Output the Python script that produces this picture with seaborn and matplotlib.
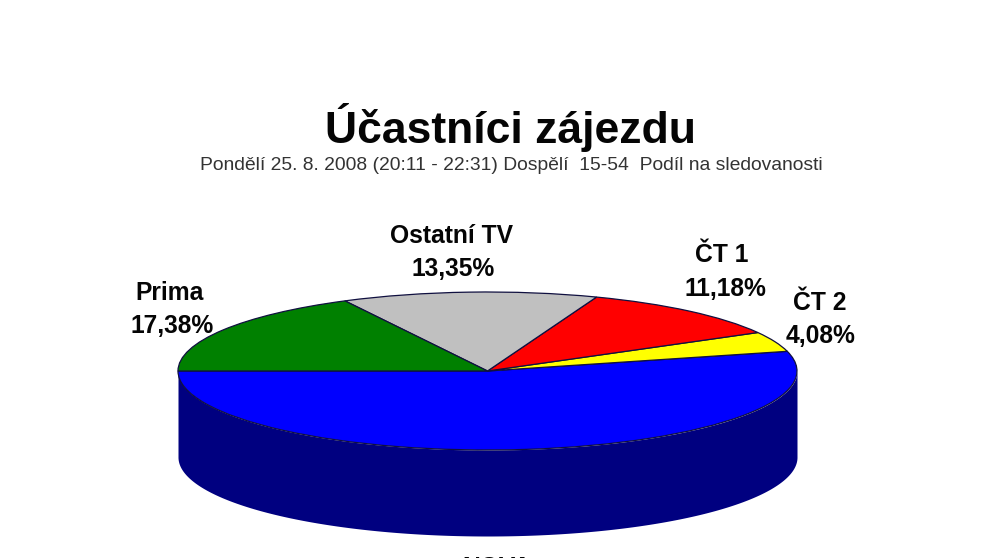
import numpy as np
import matplotlib
matplotlib.use("Agg")
import matplotlib.pyplot as plt
import seaborn as sns

sns.set_theme(style="white")
plt.rcParams["font.family"] = ["Liberation Sans", "DejaVu Sans"]

# data, in pie order (starts on the left, goes round through the bottom)
stanice = ["NOVA", "ČT 2", "ČT 1", "Ostatní TV", "Prima"]
podil = [54.01, 4.08, 11.18, 13.35, 17.38]
barvy = ["#0000ff", "#ffff00", "#ff0000", "#c0c0c0", "#008000"]
bok_barva = "#000080"

titulek = "Účastníci zájezdu"
podtitulek = "Pondělí 25. 8. 2008 (20:11 - 22:31) Dospělí  15-54  Podíl na sledovanosti"

W, H = 991, 558
# pie geometry in pixels
cx, cy, rx, ry, hloubka = 487.5, 371, 309.5, 79, 86

fig = plt.figure(figsize=(W / 100, H / 100), dpi=100, facecolor="white")
ax = fig.add_axes([0, 0, 1, 1])

# the side of the cylinder, front half only
t = np.linspace(np.pi, 2 * np.pi, 400)
x = np.cos(t)
y = np.sin(t)
h = hloubka / ry
ax.fill_between(x, y, y - h, color=bok_barva, lw=0, zorder=0)

# top face, squashed to an ellipse by the axes limits below
wedges, _ = ax.pie(
    podil,
    colors=barvy,
    startangle=180,
    counterclock=True,
    radius=1,
    wedgeprops={"edgecolor": "#101040", "linewidth": 0.9},
)

ax.set_aspect("auto")
ax.set_xlim(-cx / rx, (W - cx) / rx)
ax.set_ylim(-(H - cy) / ry, cy / ry)
ax.axis("off")


def txt(px, py, s, size, weight="bold", barva="#050505"):
    fig.text(px / W, 1 - py / H, s, ha="center", va="center",
             fontsize=size, fontweight=weight, color=barva)


txt(511, 127, titulek, 32)
txt(511, 165, podtitulek, 13.9, "normal", "#333333")

# labels: name above share, pixel anchors per station
kotvy = {
    "ČT 2": (820, 821, 303, 336),
    "ČT 1": (722, 725, 255, 289),
    "Ostatní TV": (451, 453, 236, 269),
    "Prima": (170, 172, 293, 326),
}
for jmeno, hodnota in zip(stanice, podil):
    if jmeno not in kotvy:
        continue
    x1, x2, y1, y2 = kotvy[jmeno]
    txt(x1, y1, jmeno, 17.7)
    txt(x2, y2, f"{hodnota:.2f}%".replace(".", ","), 17.7)

# NOVA sits at the bottom edge and is cut off by the picture, as in the reference
txt(497, 568, stanice[0], 17.7)

fig.savefig("out.png", dpi=100, facecolor="white")
